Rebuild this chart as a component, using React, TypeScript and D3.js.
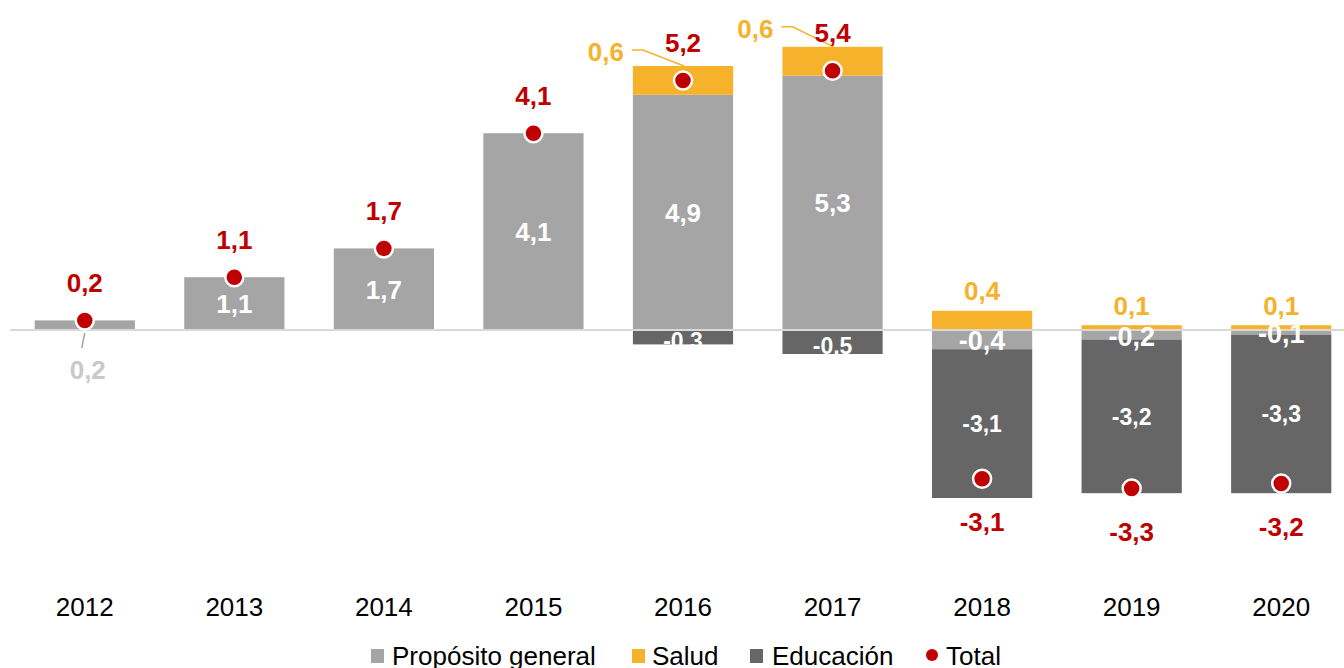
import * as d3 from "d3";
import { useEffect, useRef } from "react";

const years = ["2012", "2013", "2014", "2015", "2016", "2017", "2018", "2019", "2020"];
const proposito = [0.2, 1.1, 1.7, 4.1, 4.9, 5.3, -0.4, -0.2, -0.1];
const salud = [0, 0, 0, 0, 0.6, 0.6, 0.4, 0.1, 0.1];
const educacion = [0, 0, 0, 0, -0.3, -0.5, -3.1, -3.2, -3.3];
const total = [0.2, 1.1, 1.7, 4.1, 5.2, 5.4, -3.1, -3.3, -3.2];
const legendItems = ["Propósito general", "Salud", "Educación", "Total"];

const GRAY = "#a5a5a5";
const ORANGE = "#f6b22b";
const DARK = "#666666";
const RED = "#c00000";
const FONT = "'Liberation Sans', Arial, sans-serif";

const fmt = (v: number) => v.toFixed(1).replace(".", ",");

export default function App() {
  const svgRef = useRef<SVGSVGElement | null>(null);

  useEffect(() => {
    if (!svgRef.current) return;
    const width = 1344;
    const height = 668;

    d3.select(svgRef.current).selectAll("*").remove();
    const svg = d3.select(svgRef.current).attr("width", width).attr("height", height);

    const x = d3.scaleBand().domain(years).range([10, 1356]).paddingInner(0.33).paddingOuter(0.165);
    const y = d3.scaleLinear().domain([-5, 7]).range([570, -6]);
    const bw = x.bandwidth();
    const cx = (i: number) => (x(years[i]) as number) + bw / 2;

    const g = svg.append("g");

    // Propósito general
    g.selectAll("rect.prop")
      .data(proposito)
      .join("rect")
      .attr("class", "prop")
      .attr("x", (_, i) => x(years[i]) as number)
      .attr("width", bw)
      .attr("y", (d) => y(Math.max(0, d)))
      .attr("height", (d) => Math.abs(y(d) - y(0)))
      .attr("fill", GRAY);

    // Salud (stacked on positive side)
    g.selectAll("rect.salud")
      .data(salud)
      .join("rect")
      .attr("class", "salud")
      .attr("x", (_, i) => x(years[i]) as number)
      .attr("width", bw)
      .attr("y", (d, i) => y(Math.max(0, proposito[i]) + d))
      .attr("height", (d) => y(0) - y(d))
      .attr("fill", ORANGE);

    // Educación (stacked on negative side)
    g.selectAll("rect.edu")
      .data(educacion)
      .join("rect")
      .attr("class", "edu")
      .attr("x", (_, i) => x(years[i]) as number)
      .attr("width", bw)
      .attr("y", (_, i) => y(Math.min(0, proposito[i])))
      .attr("height", (d) => y(d) - y(0))
      .attr("fill", DARK);

    // zero line
    g.append("line")
      .attr("x1", 10)
      .attr("x2", width)
      .attr("y1", y(0))
      .attr("y2", y(0))
      .attr("stroke", "#d9d9d9")
      .attr("stroke-width", 2);

    // Labels inside propósito bars
    proposito.forEach((v, i) => {
      if (i === 0) return;
      const mid = v > 0 ? y(v / 2) : y(v / 2) + 1;
      g.append("text")
        .attr("x", cx(i))
        .attr("y", mid)
        .attr("dy", "0.36em")
        .attr("text-anchor", "middle")
        .attr("fill", "#ffffff")
        .attr("font-family", FONT)
        .attr("font-weight", "bold")
        .attr("font-size", v > 0 ? 26 : 27)
        .text(fmt(v));
    });

    // 2012 propósito label below with leader
    g.append("line")
      .attr("x1", cx(0))
      .attr("y1", y(0) + 3)
      .attr("x2", cx(0) - 3)
      .attr("y2", y(0) + 18)
      .attr("stroke", "#a5a5a5")
      .attr("stroke-width", 1.5);
    g.append("text")
      .attr("x", cx(0) + 3)
      .attr("y", y(0) + 40)
      .attr("dy", "0.36em")
      .attr("text-anchor", "middle")
      .attr("fill", "#c9c9c9")
      .attr("font-family", FONT)
      .attr("font-weight", "bold")
      .attr("font-size", 26)
      .text(fmt(proposito[0]));

    // Educación labels
    educacion.forEach((v, i) => {
      if (v === 0) return;
      const top = Math.min(0, proposito[i]);
      g.append("text")
        .attr("x", cx(i))
        .attr("y", y(top + v / 2) + (Math.abs(v) < 1 ? 4 : 0))
        .attr("dy", "0.36em")
        .attr("text-anchor", "middle")
        .attr("fill", "#ffffff")
        .attr("font-family", FONT)
        .attr("font-weight", "bold")
        .attr("font-size", 23)
        .text(fmt(v));
    });

    // Salud labels
    const leaderOffset: Record<number, number> = { 4: 16, 5: 20 };
    salud.forEach((v, i) => {
      if (v === 0) return;
      const top = y(Math.max(0, proposito[i]) + v);
      const lbl = g
        .append("text")
        .attr("dy", "0.36em")
        .attr("fill", ORANGE)
        .attr("font-family", FONT)
        .attr("font-weight", "bold")
        .attr("font-size", 26)
        .text(fmt(v));
      if (leaderOffset[i] !== undefined) {
        const left = x(years[i]) as number;
        const ly = top - leaderOffset[i];
        lbl.attr("x", left - 9).attr("y", ly + 2).attr("text-anchor", "end");
        g.append("polyline")
          .attr("points", `${left - 1},${ly} ${left + 10},${ly} ${cx(i) + 1},${top}`)
          .attr("fill", "none")
          .attr("stroke", ORANGE)
          .attr("stroke-width", 1.5);
      } else {
        lbl.attr("x", cx(i)).attr("y", top - 20).attr("text-anchor", "middle");
      }
    });

    // Total dots
    g.selectAll("circle.total")
      .data(total)
      .join("circle")
      .attr("class", "total")
      .attr("cx", (_, i) => cx(i))
      .attr("cy", (d) => y(d))
      .attr("r", 9)
      .attr("fill", RED)
      .attr("stroke", "#ffffff")
      .attr("stroke-width", 2.5);

    // Total labels
    g.selectAll("text.total")
      .data(total)
      .join("text")
      .attr("class", "total")
      .attr("x", (_, i) => cx(i))
      .attr("y", (d) => (d > 0 ? y(d) - 38 : y(d) + 43))
      .attr("dy", "0.36em")
      .attr("text-anchor", "middle")
      .attr("fill", RED)
      .attr("font-family", FONT)
      .attr("font-weight", "bold")
      .attr("font-size", 26)
      .text((d) => fmt(d));

    // X axis labels
    svg
      .append("g")
      .selectAll("text")
      .data(years)
      .join("text")
      .attr("x", (d) => (x(d) as number) + bw / 2)
      .attr("y", 607)
      .attr("dy", "0.36em")
      .attr("text-anchor", "middle")
      .attr("fill", "#000000")
      .attr("font-family", FONT)
      .attr("font-size", 26)
      .text((d) => d);

    // Legend
    const legendX = [371, 632, 750, 925];
    const legendColors = [GRAY, ORANGE, DARK, RED];
    const textOffset = [21, 20, 22, 21];
    const lg = svg.append("g");
    legendItems.forEach((name, i) => {
      if (i < 3) {
        lg.append("rect")
          .attr("x", legendX[i])
          .attr("y", 649)
          .attr("width", 13)
          .attr("height", 14)
          .attr("fill", legendColors[i]);
      } else {
        lg.append("circle")
          .attr("cx", legendX[i] + 7)
          .attr("cy", 655)
          .attr("r", 6)
          .attr("fill", legendColors[i]);
      }
      lg.append("text")
        .attr("x", legendX[i] + textOffset[i])
        .attr("y", 656)
        .attr("dy", "0.36em")
        .attr("fill", "#000000")
        .attr("font-family", FONT)
        .attr("font-size", 26)
        .text(name);
    });
  }, []);

  return (
    <svg
      ref={svgRef}
      style={{ position: "absolute", left: 0, top: 0, display: "block", background: "#ffffff" }}
    />
  );
}
